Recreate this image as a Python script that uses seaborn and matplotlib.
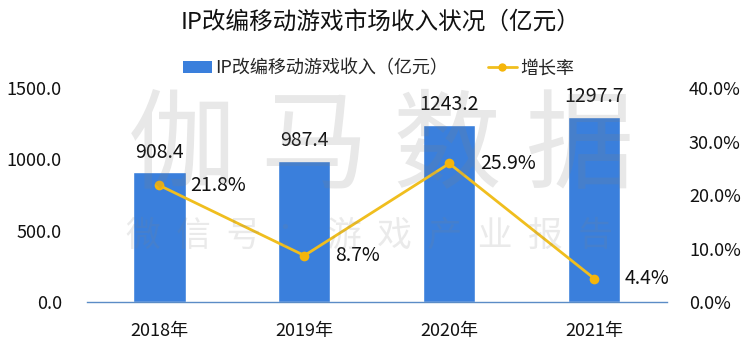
import matplotlib
matplotlib.use("Agg")
import matplotlib.pyplot as plt
import seaborn as sns
import pandas as pd
from matplotlib.ticker import FuncFormatter, MultipleLocator
from matplotlib.lines import Line2D
from matplotlib.patches import Patch

years = ["2018年", "2019年", "2020年", "2021年"]
revenue = [908.4, 987.4, 1243.2, 1297.7]
growth = [21.8, 8.7, 25.9, 4.4]
title = "IP改编移动游戏市场收入状况（亿元）"
bar_label = "IP改编移动游戏收入（亿元）"
line_label = "增长率"

sns.set_theme(style="white")
plt.rcParams['font.family'] = ['Noto Sans CJK SC', 'DejaVu Sans']

BAR = "#3a7fdc"
LINE = "#f0be1e"

df = pd.DataFrame({"year": years, "revenue": revenue, "growth": growth})

fig = plt.figure(figsize=(7.5, 3.55), dpi=100)
ax = fig.add_axes([0.116, 0.149, 0.773, 0.603])
sns.barplot(data=df, x="year", y="revenue", color=BAR, width=0.36, ax=ax, saturation=1)
ax.set_ylim(0, 1500)
ax.set_xlim(-0.5, 3.5)
ax.yaxis.set_major_locator(MultipleLocator(500))
ax.yaxis.set_major_formatter(FuncFormatter(lambda v, p: f"{v:.1f}"))
ax.set_xlabel("")
ax.set_ylabel("")
for s in ["top", "left", "right"]:
    ax.spines[s].set_visible(False)
ax.spines["bottom"].set_color("#5b8cc6")
ax.spines["bottom"].set_linewidth(1.0)
ax.tick_params(axis="y", length=0, pad=18, labelsize=13, labelcolor="#111111")
ax.tick_params(axis="x", length=0, pad=14, labelsize=13, labelcolor="#111111")

for i, v in enumerate(revenue):
    ax.annotate(f"{v:.1f}", (i, v), xytext=(0, 7), textcoords="offset points",
                ha="center", va="bottom", fontsize=14, color="#111111")

ax2 = ax.twinx()
sns.lineplot(x=list(range(len(years))), y=growth, ax=ax2, color=LINE, linewidth=2.0,
             marker="o", markersize=7, markeredgewidth=0, markerfacecolor="#f5b50a")
ax2.set_ylim(0, 40)
ax2.yaxis.set_major_locator(MultipleLocator(10))
ax2.yaxis.set_major_formatter(FuncFormatter(lambda v, p: f"{v:.1f}%"))
for s in ["top", "left", "right", "bottom"]:
    ax2.spines[s].set_visible(False)
ax2.tick_params(axis="y", length=0, pad=16, labelsize=13, labelcolor="#111111")
ax2.set_ylabel("")
for i, g in enumerate(growth):
    ax2.annotate(f"{g:.1f}%", (i, g), xytext=(22, 0), textcoords="offset points",
                 ha="left", va="center", fontsize=14, color="#111111")

fig.text(0.507, 0.938, title, ha="center", va="center", fontsize=17, color="#111111")

handles = [Patch(facecolor=BAR, edgecolor="none"),
           Line2D([0], [0], color=LINE, lw=2.0, marker="o", markersize=6,
                  markerfacecolor="#f5b50a", markeredgewidth=0)]
fig.legend(handles, [bar_label, line_label], loc="center", bbox_to_anchor=(0.505, 0.808),
           ncol=2, frameon=False, fontsize=13, handlelength=1.6, handleheight=0.7,
           handletextpad=0.2, columnspacing=2.2)

# watermark
fig.text(0.508, 0.58, "伽 马 数 据", ha="center", va="center", fontsize=78,
         color="#808080", alpha=0.18, zorder=10)
fig.text(0.493, 0.335, "微  信  号  ：  游  戏  产  业  报  告", ha="center", va="center",
         fontsize=25, color="#808080", alpha=0.16, zorder=10)

fig.savefig("out.png", dpi=100)
